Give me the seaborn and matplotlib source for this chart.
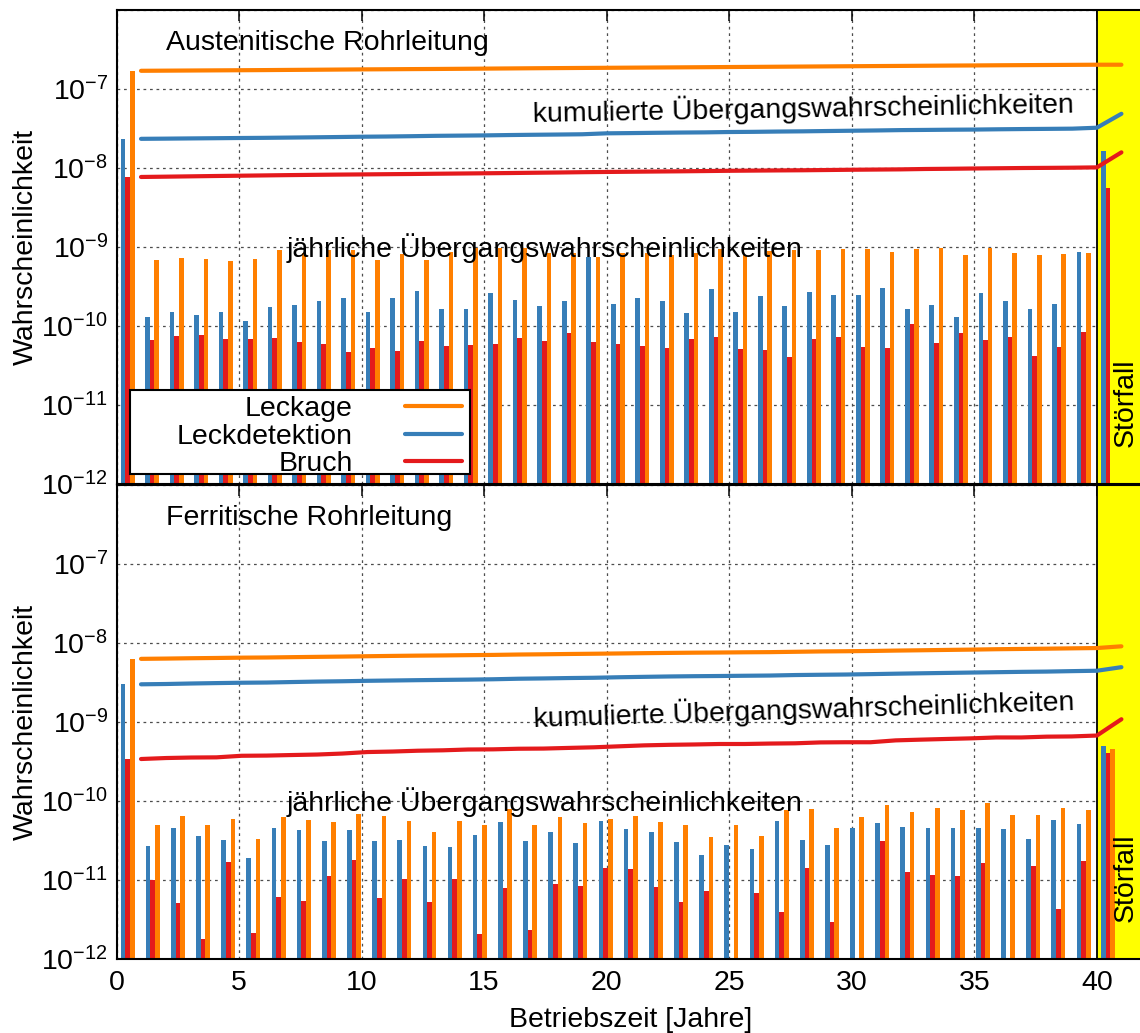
import numpy as np
import pandas as pd
import matplotlib
matplotlib.use("Agg")
import matplotlib.pyplot as plt
from matplotlib.lines import Line2D
from matplotlib.patches import Rectangle
from matplotlib.ticker import FixedLocator, LogLocator, NullFormatter
import seaborn as sns

sns.set_theme(style="white")
plt.rcParams["font.family"] = ["Liberation Sans", "DejaVu Sans"]
plt.rcParams["mathtext.default"] = "regular"
plt.rcParams["text.color"] = "black"
plt.rcParams["axes.labelcolor"] = "black"

series = ["Leckage", "Leckdetektion", "Bruch"]
palette = {"Leckage": "#ff7f00", "Leckdetektion": "#377eb8", "Bruch": "#e41a1c"}

# Austenitic pipe: initial state (index 0) followed by annual transition probabilities
aus_leckdetektion = [2.34e-8, 1.31e-10, 1.52e-10, 1.37e-10, 1.49e-10, 1.17e-10, 1.76e-10, 1.85e-10,
                     2.07e-10, 2.28e-10, 1.5e-10, 2.28e-10, 2.75e-10, 1.63e-10, 1.66e-10, 2.6e-10,
                     2.13e-10, 1.81e-10, 2.09e-10, 7.5e-10, 1.9e-10, 2.28e-10, 2.07e-10, 1.46e-10,
                     2.97e-10, 1.5e-10, 2.38e-10, 1.81e-10, 2.7e-10, 2.44e-10, 2.44e-10, 3.05e-10,
                     1.63e-10, 1.85e-10, 1.3e-10, 2.6e-10, 2.1e-10, 1.63e-10, 1.9e-10, 8.7e-10]
aus_bruch = [7.7e-9, 6.7e-11, 7.4e-11, 7.6e-11, 6.9e-11, 6.9e-11, 7.1e-11, 6.3e-11,
             5.9e-11, 4.7e-11, 5.2e-11, 4.8e-11, 6.4e-11, 5.6e-11, 5.75e-11, 6.0e-11,
             7.0e-11, 6.5e-11, 8.1e-11, 6.3e-11, 5.9e-11, 5.6e-11, 5.3e-11, 6.8e-11,
             7.3e-11, 5.1e-11, 5.0e-11, 4.1e-11, 6.8e-11, 7.3e-11, 5.4e-11, 5.3e-11,
             1.07e-10, 6.1e-11, 8.1e-11, 6.7e-11, 7.2e-11, 4.2e-11, 5.4e-11, 8.5e-11]
aus_leckage = [1.7e-7, 6.9e-10, 7.3e-10, 7.0e-10, 6.65e-10, 7.1e-10, 9.1e-10, 8.4e-10,
               9.2e-10, 9.2e-10, 6.9e-10, 8.2e-10, 6.8e-10, 8.7e-10, 9.6e-10, 9.8e-10,
               9.8e-10, 8.5e-10, 8.3e-10, 7.5e-10, 8.5e-10, 8.3e-10, 8.0e-10, 8.3e-10,
               9.5e-10, 8.0e-10, 9.0e-10, 9.1e-10, 9.2e-10, 9.3e-10, 9.5e-10, 8.6e-10,
               9.4e-10, 9.6e-10, 7.85e-10, 9.8e-10, 8.3e-10, 7.85e-10, 8.1e-10, 8.3e-10]
# Accident (Störfall): Leckage, Leckdetektion, Bruch
aus_stoerfall = [np.nan, 1.62e-8, 5.6e-9]

# Ferritic pipe
fer_leckdetektion = [3.0e-9, 2.7e-11, 4.5e-11, 3.6e-11, 3.2e-11, 1.9e-11, 4.6e-11, 4.3e-11,
                     3.1e-11, 4.3e-11, 3.1e-11, 3.2e-11, 2.7e-11, 2.65e-11, 3.7e-11, 5.4e-11,
                     3.1e-11, 4.0e-11, 2.9e-11, 5.6e-11, 4.4e-11, 4.1e-11, 3.0e-11, 2.07e-11,
                     2.8e-11, 2.45e-11, 5.6e-11, 3.2e-11, 2.8e-11, 4.6e-11, 5.2e-11, 4.7e-11,
                     4.5e-11, 4.5e-11, 4.5e-11, 4.4e-11, 3.3e-11, 5.7e-11, 5.1e-11]
fer_bruch = [3.4e-10, 1.0e-11, 5.05e-12, 1.8e-12, 1.68e-11, 2.15e-12, 6.1e-12, 5.5e-12,
             1.13e-11, 1.8e-11, 6.0e-12, 1.02e-11, 5.3e-12, 1.04e-11, 2.1e-12, 7.9e-12,
             2.3e-12, 9.0e-12, 8.4e-12, 1.4e-11, 1.38e-11, 8.2e-12, 5.2e-12, 7.2e-12,
             np.nan, 6.8e-12, 3.9e-12, 1.4e-11, 2.9e-12, np.nan, 3.1e-11, 1.27e-11,
             1.17e-11, 1.12e-11, 1.64e-11, np.nan, 1.5e-11, 4.3e-12, 1.74e-11]
fer_leckage = [6.3e-9, 5.0e-11, 6.5e-11, 4.9e-11, 5.9e-11, 3.3e-11, 6.3e-11, 5.8e-11,
               5.5e-11, 6.8e-11, 6.5e-11, 5.6e-11, 4.1e-11, 5.6e-11, 5.0e-11, 7.9e-11,
               5.0e-11, 6.3e-11, 5.3e-11, 5.9e-11, 6.5e-11, 5.5e-11, 5.0e-11, 3.55e-11,
               4.9e-11, 3.6e-11, 7.7e-11, 7.9e-11, 4.5e-11, 6.3e-11, 9.0e-11, 7.3e-11,
               8.1e-11, 7.7e-11, 9.5e-11, 6.6e-11, 6.6e-11, 8.1e-11, 7.7e-11]
fer_stoerfall = [4.5e-10, 4.9e-10, 4.1e-10]

panel_titles = ["Austenitische Rohrleitung", "Ferritische Rohrleitung"]
x_ticks = list(range(0, 41, 5))

FS = 20.5
PX_W, PX_H = 1140, 1033
ax_left, ax_right = 116.5, 1150.0
px_per_year = 24.51
x_max = (ax_right - ax_left) / px_per_year
stoer_x = 40.0
bar_w = 0.19
bar_off = 0.17


def build_panel(ax, group_pos, leck, detek, bruch, stoer, title, kum_pos, kum_rot, jahr_pos, legend):
    pos = np.append(group_pos, stoer_x)
    vals = {
        "Leckage": np.append(np.array(leck, float), stoer[0]),
        "Leckdetektion": np.append(np.array(detek, float), stoer[1]),
        "Bruch": np.append(np.array(bruch, float), stoer[2]),
    }
    # annual bars: blue, red, orange side by side
    for i, name in enumerate(["Leckdetektion", "Bruch", "Leckage"]):
        ax.bar(pos + bar_off + i * bar_w, vals[name], width=bar_w, align="edge",
               color=palette[name], linewidth=0, zorder=2)

    # cumulative probabilities
    rows = []
    for name in series:
        cum = np.nancumsum(vals[name])
        for x, c in zip(pos + 1.0, cum):
            rows.append({"Jahr": x, "p": c, "Reihe": name})
    df = pd.DataFrame(rows)
    sns.lineplot(data=df, x="Jahr", y="p", hue="Reihe", palette=palette, estimator=None,
                 linewidth=3.0, legend=False, ax=ax, zorder=3)

    ax.set_yscale("log")
    ax.set_ylim(1e-12, 1e-6)
    ax.set_xlim(0, x_max)

    ax.axvspan(stoer_x, x_max + 1, color="#ffff00", zorder=1, linewidth=0)
    ax.axvline(stoer_x, color="black", linewidth=1.3, zorder=2.5)

    ax.yaxis.set_major_locator(FixedLocator(10.0 ** np.arange(-12, -5)))
    ax.set_yticklabels([f"$10^{{{e}}}$" for e in range(-12, -6)] + [""])
    ax.yaxis.set_minor_locator(LogLocator(base=10, subs=np.arange(2, 10)))
    ax.yaxis.set_minor_formatter(NullFormatter())
    ax.set_xticks(x_ticks)

    ax.set_axisbelow(True)
    ax.grid(True, which="major", axis="both", color="0.3",
            linestyle=(0, (2.2, 3.0)), linewidth=0.9)
    ax.tick_params(which="both", direction="in", top=True, right=False,
                   colors="black", labelsize=FS, width=1.1)
    ax.tick_params(which="major", length=8, pad=6)
    ax.tick_params(axis="x", which="major", pad=8)
    ax.tick_params(which="minor", length=4)
    for sp in ax.spines.values():
        sp.set_color("black")
        sp.set_linewidth(1.5)

    ax.set_xlabel("")
    ax.set_ylabel("Wahrscheinlichkeit", fontsize=FS, color="black")
    ax.yaxis.set_label_coords(-0.075, 0.5)

    ax.text(2.0, 3.8e-7, title, fontsize=FS, ha="left", va="center", zorder=5)
    ax.text(kum_pos[0], kum_pos[1], "kumulierte Übergangswahrscheinlichkeiten", fontsize=FS,
            ha="left", va="center", rotation=kum_rot, rotation_mode="anchor", zorder=5)
    ax.text(jahr_pos[0], jahr_pos[1], "jährliche Übergangswahrscheinlichkeiten", fontsize=FS,
            ha="left", va="center", zorder=5)
    ax.text(41.19, 2.9e-12, "Störfall", fontsize=FS, rotation=90, ha="center", va="bottom", zorder=5)

    if legend:
        # legend box, entries right-aligned against the line samples
        ax.add_patch(Rectangle((0.0131, 0.0211), 0.3285, 0.1772, transform=ax.transAxes,
                               facecolor="white", edgecolor="black", linewidth=1.5, zorder=5.5))
        handles = [Line2D([0], [0], color=palette[n], linewidth=3.0) for n in series]
        leg = ax.legend(handles, series, loc="lower right", bbox_to_anchor=(0.3343, 0.0148),
                        markerfirst=False, fontsize=FS, frameon=False, borderaxespad=0,
                        borderpad=0, labelspacing=0.05, handlelength=2.0, handletextpad=1.83)
        leg.set_zorder(6)


fig = plt.figure(figsize=(PX_W / 100, PX_H / 100), dpi=100)
w = (ax_right - ax_left) / PX_W
h = 474 / PX_H
ax_top = fig.add_axes([ax_left / PX_W, 1 - 484 / PX_H, w, h])
ax_bot = fig.add_axes([ax_left / PX_W, 1 - 959 / PX_H, w, h])

aus_pos = np.arange(len(aus_leckage), dtype=float)
n_fer = len(fer_leckage)
fer_pos = np.arange(n_fer, dtype=float) * n_fer / (n_fer - 1)

build_panel(ax_top, aus_pos, aus_leckage, aus_leckdetektion, aus_bruch, aus_stoerfall,
            panel_titles[0], (17.0, 5.0e-8), 1.0, (6.95, 9.8e-10), True)
build_panel(ax_bot, fer_pos, fer_leckage, fer_leckdetektion, fer_bruch, fer_stoerfall,
            panel_titles[1], (17.0, 1.12e-9), 1.8, (6.95, 9.7e-11), False)

ax_top.tick_params(labelbottom=False)
ax_bot.set_xlabel("Betriebszeit [Jahre]", fontsize=FS, color="black")
ax_bot.xaxis.set_label_coords(0.497, -0.102)

fig.savefig("out.png", dpi=100)
